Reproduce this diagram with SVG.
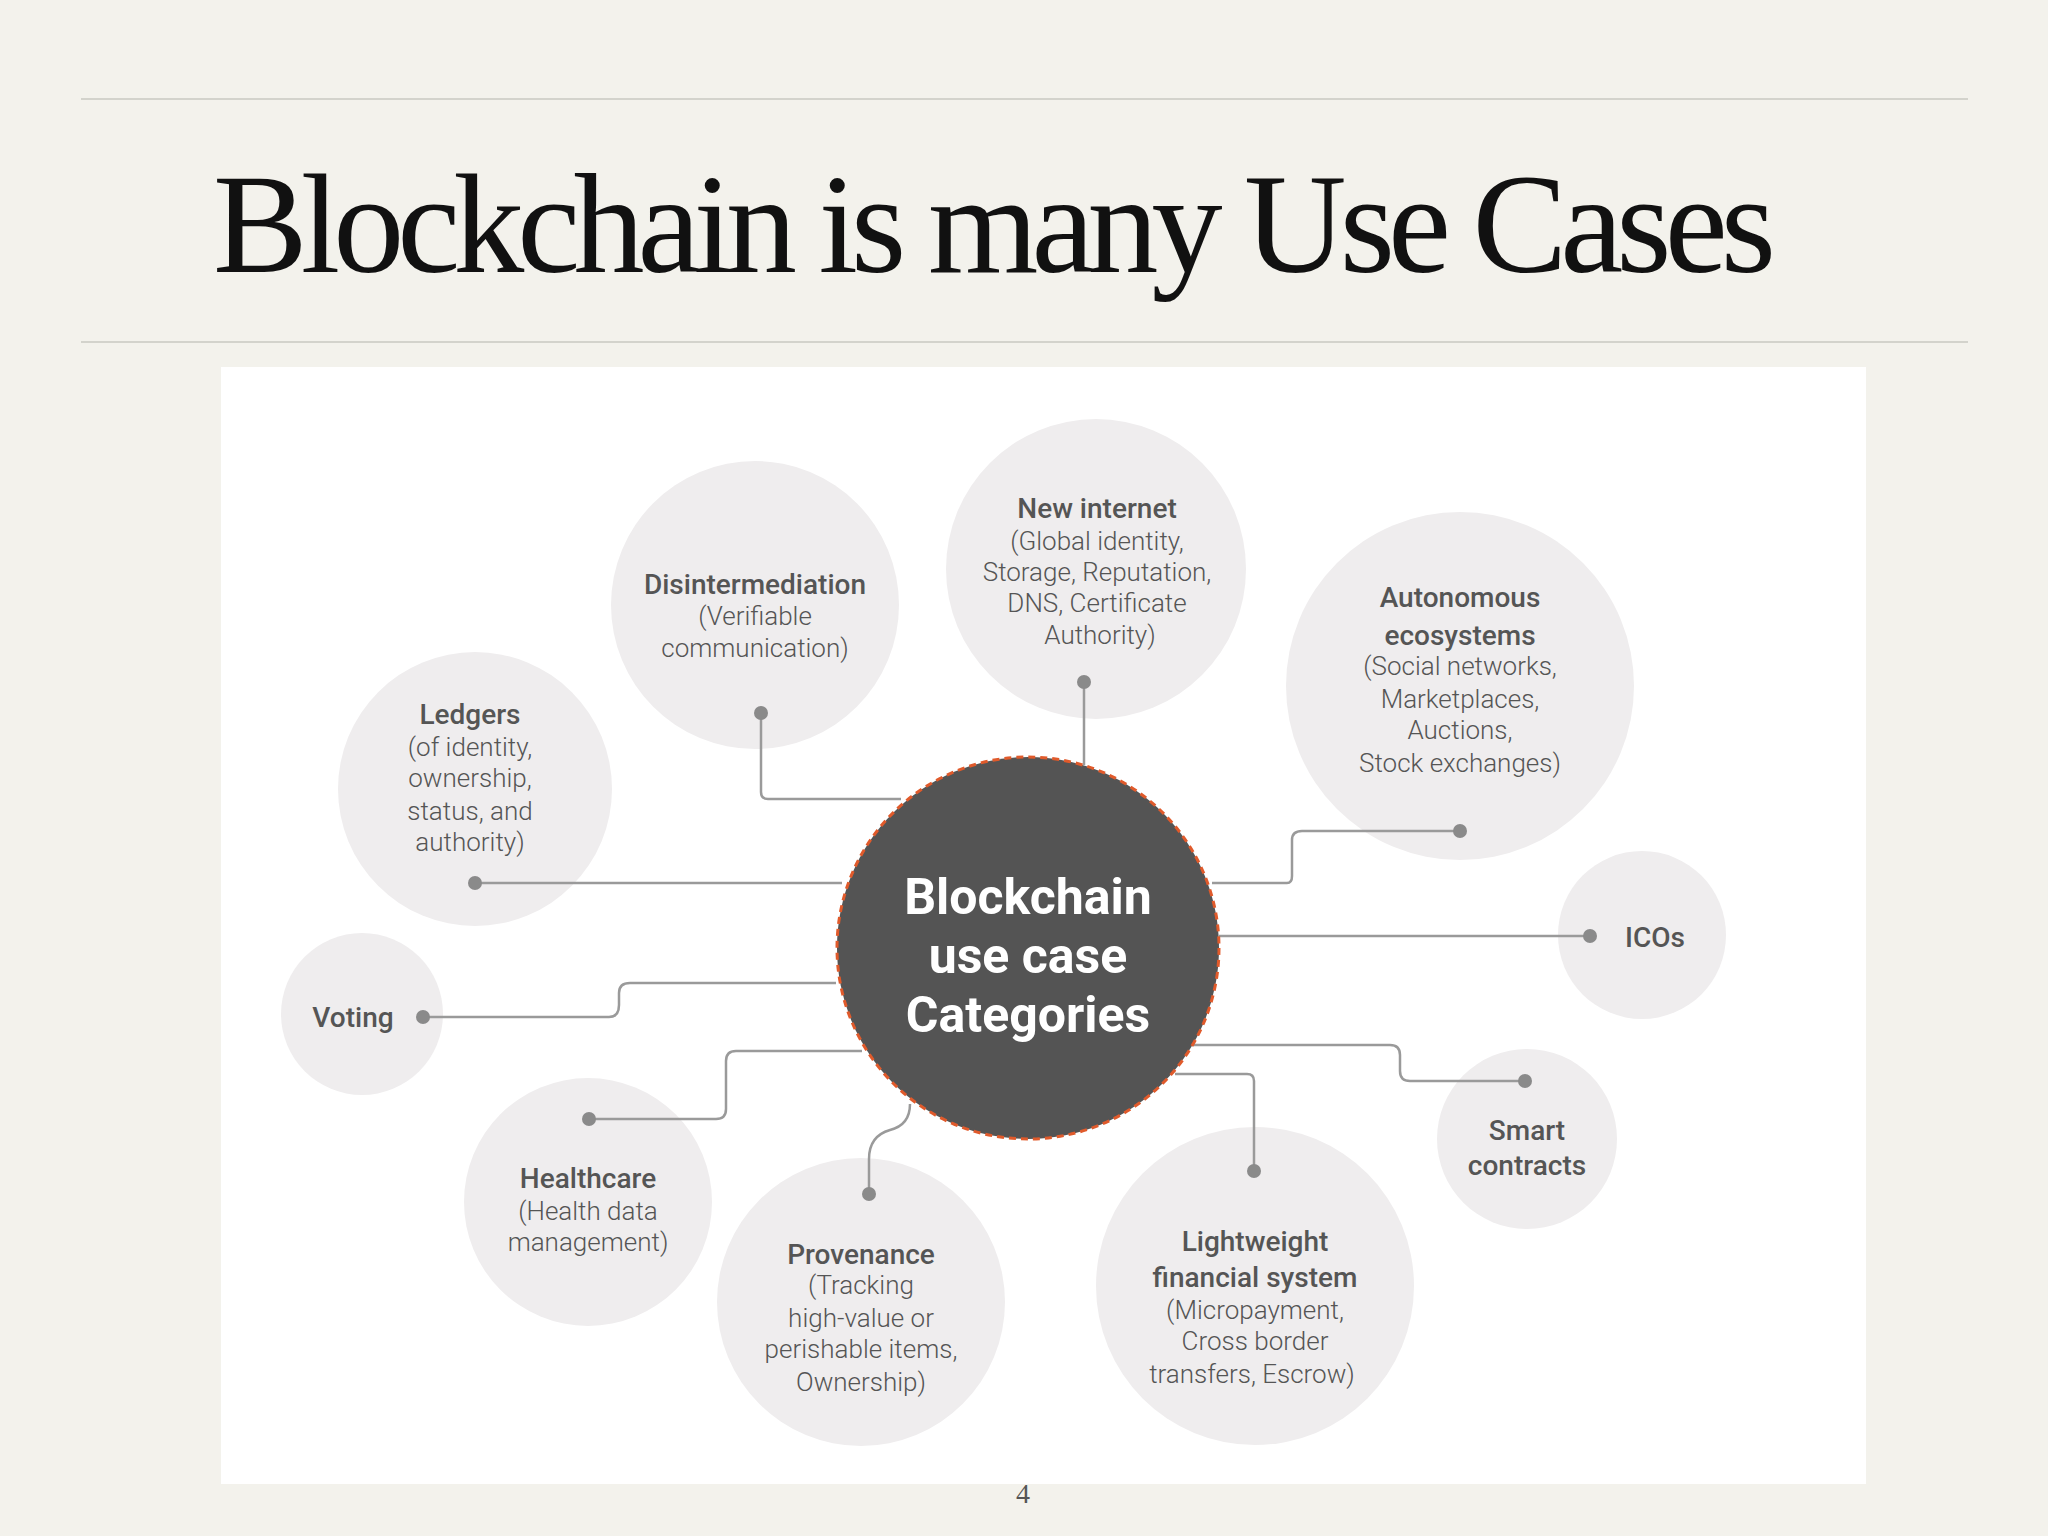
<svg xmlns="http://www.w3.org/2000/svg" width="2048" height="1536" viewBox="0 0 2048 1536">
<style>
.b{fill:#efedee}
.t{font-family:Roboto,"Liberation Sans",sans-serif;font-size:26px;fill:#555;text-anchor:middle;dominant-baseline:central}
.h{font-weight:500;font-size:28px}
.l{font-weight:300}
.w{fill:#fff;font-size:50px;font-weight:bold}
.c{fill:none;stroke:#9a9a9a;stroke-width:2.5}
.d{fill:#8a8a8a}
</style>
<rect width="2048" height="1536" fill="#f3f2ec"/>
<line x1="81" y1="99" x2="1968" y2="99" stroke="#c9c8c2" stroke-width="1.5"/>
<line x1="81" y1="342" x2="1968" y2="342" stroke="#c9c8c2" stroke-width="1.5"/>
<text x="213" y="272" font-family="'Liberation Serif',serif" font-size="142" fill="#111" textLength="1563">Blockchain is many Use Cases</text>
<rect x="221" y="367" width="1645" height="1117" fill="#fff"/>
<g id="disintermediation"><circle class="b" cx="755" cy="605" r="144"/><text class="t h" x="755" y="584">Disintermediation</text><text class="t l" x="755" y="616">(Verifiable</text><text class="t l" x="755" y="648">communication)</text></g>
<g id="newinternet"><circle class="b" cx="1096" cy="569" r="150"/><text class="t h" x="1097" y="508">New internet</text><text class="t l" x="1097" y="541">(Global identity,</text><text class="t l" x="1097" y="572">Storage, Reputation,</text><text class="t l" x="1097" y="603">DNS, Certificate</text><text class="t l" x="1100" y="635">Authority)</text></g>
<g id="autonomous"><circle class="b" cx="1460" cy="686" r="174"/><text class="t h" x="1460" y="597">Autonomous</text><text class="t h" x="1460" y="635">ecosystems</text><text class="t l" x="1460" y="666">(Social networks,</text><text class="t l" x="1460" y="699">Marketplaces,</text><text class="t l" x="1460" y="730">Auctions,</text><text class="t l" x="1460" y="763">Stock exchanges)</text></g>
<g id="ledgers"><circle class="b" cx="475" cy="789" r="137"/><text class="t h" x="470" y="714">Ledgers</text><text class="t l" x="470" y="747">(of identity,</text><text class="t l" x="470" y="778">ownership,</text><text class="t l" x="470" y="811">status, and</text><text class="t l" x="470" y="842">authority)</text></g>
<g id="icos"><circle class="b" cx="1642" cy="935" r="84"/><text class="t h" x="1655" y="937">ICOs</text></g>
<g id="voting"><circle class="b" cx="362" cy="1014" r="81"/><text class="t h" x="353" y="1017">Voting</text></g>
<g id="smart"><circle class="b" cx="1527" cy="1139" r="90"/><text class="t h" x="1527" y="1130">Smart</text><text class="t h" x="1527" y="1165">contracts</text></g>
<g id="healthcare"><circle class="b" cx="588" cy="1202" r="124"/><text class="t h" x="588" y="1178">Healthcare</text><text class="t l" x="588" y="1211">(Health data</text><text class="t l" x="588" y="1242">management)</text></g>
<g id="provenance"><circle class="b" cx="861" cy="1302" r="144"/><text class="t h" x="861" y="1254">Provenance</text><text class="t l" x="861" y="1285">(Tracking</text><text class="t l" x="861" y="1318">high-value or</text><text class="t l" x="861" y="1349">perishable items,</text><text class="t l" x="861" y="1382">Ownership)</text></g>
<g id="lightweight"><circle class="b" cx="1255" cy="1286" r="159"/><text class="t h" x="1255" y="1241">Lightweight</text><text class="t h" x="1255" y="1277">financial system</text><text class="t l" x="1255" y="1310">(Micropayment,</text><text class="t l" x="1255" y="1341">Cross border</text><text class="t l" x="1252" y="1374">transfers, Escrow)</text></g>
<g id="connectors">
<path class="c" d="M761 713V792Q761 799 768 799H901"/>
<path class="c" d="M1084 682V765"/>
<path class="c" d="M1212 883H1287Q1292 883 1292 876V840Q1292 831 1302 831H1460"/>
<path class="c" d="M475 883H842"/>
<path class="c" d="M1219 936H1590"/>
<path class="c" d="M423 1017H609Q619 1017 619 1005V993Q619 983 630 983H836"/>
<path class="c" d="M589 1119H716Q726 1119 726 1109V1061Q726 1051 736 1051H862"/>
<path class="c" d="M869 1194V1159Q869 1136 890 1130Q910 1125 910 1104"/>
<path class="c" d="M1175 1074H1247Q1254 1074 1254 1081V1171"/>
<path class="c" d="M1192 1045H1390Q1400 1045 1400 1055V1071Q1400 1081 1410 1081H1525"/>
<g class="d"><circle cx="761" cy="713" r="7"/><circle cx="1084" cy="682" r="7"/><circle cx="1460" cy="831" r="7"/><circle cx="475" cy="883" r="7"/><circle cx="1590" cy="936" r="7"/><circle cx="423" cy="1017" r="7"/><circle cx="589" cy="1119" r="7"/><circle cx="869" cy="1194" r="7"/><circle cx="1254" cy="1171" r="7"/><circle cx="1525" cy="1081" r="7"/></g>
</g>
<g id="center"><circle cx="1028" cy="948" r="191" fill="#545454" stroke="#e05a2b" stroke-width="3" stroke-dasharray="7 5"/>
<text class="t w" x="1028" y="897">Blockchain</text><text class="t w" x="1028" y="956">use case</text><text class="t w" x="1028" y="1015">Categories</text></g>
<text x="1023" y="1503" font-family="'Liberation Serif',serif" font-size="28" fill="#555" text-anchor="middle">4</text>
</svg>
